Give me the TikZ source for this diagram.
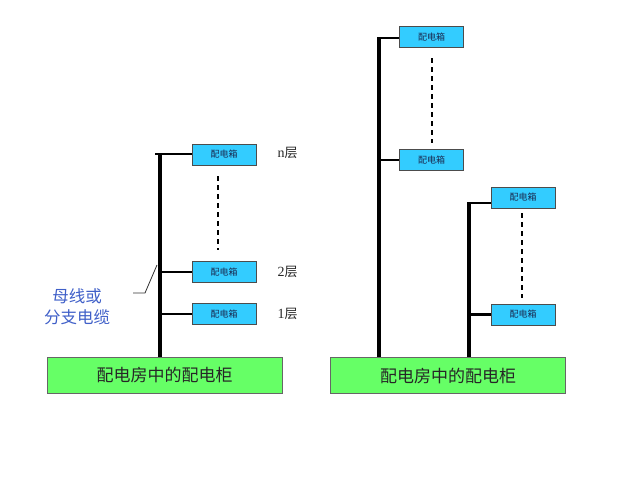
\documentclass[tikz,border=0pt]{standalone}
\usepackage{fontspec}
\newfontfamily\cjk{Noto Sans CJK SC}
\newfontfamily\lat{Liberation Serif}
\definecolor{boxblue}{HTML}{33CCFF}
\definecolor{boxgreen}{HTML}{66FF66}
\definecolor{labelblue}{HTML}{3F5FC8}
\definecolor{boxtext}{HTML}{1A2A50}
\begin{document}
\begin{tikzpicture}[x=1pt,y=-1pt,
  dbox/.style={draw=black!70,fill=boxblue,minimum width=64pt,minimum height=21pt,inner sep=0pt,text=boxtext,font=\cjk\fontsize{9}{9}\selectfont},
  cabinet/.style={draw=black!60,fill=boxgreen,minimum width=235pt,minimum height=36pt,inner sep=0pt,text=black!85,font=\cjk\fontsize{17}{17}\selectfont},
  bus/.style={line width=4.5pt},
  stub/.style={line width=2.2pt},
  dots/.style={dashed,line width=1.5pt,dash pattern=on 5pt off 4pt},
  floor/.style={font=\cjk\fontsize{13}{13}\selectfont,anchor=west,text=black!85}]
\useasboundingbox (0,0) rectangle (640,480);
% left diagram
\node[cabinet] (c1) at (164.5,375) {配电房中的配电柜};
\node[dbox] (a1) at (224,154.5) {配电箱};
\node[dbox] (a2) at (224,272) {配电箱};
\node[dbox] (a3) at (224,314) {配电箱};
\coordinate (b1t) at (160,154);
\coordinate (b1s) at (155,154);
\draw[bus] (b1t) -- (b1t |- c1.north);
\draw[stub] (b1s) -- (a1.west |- b1s);
\draw[stub] (b1t |- a2.west) -- (a2.west);
\draw[stub] (b1t |- a3.west) -- (a3.west);
\draw[dots] (218,176) -- (218,250);
\node[floor] (f1) at (274,153) {{\lat\fontsize{14}{14}\selectfont n}层};
\node[floor] (f2) at (274,272) {{\lat\fontsize{14}{14}\selectfont 2}层};
\node[floor] (f3) at (274,314) {{\lat\fontsize{14}{14}\selectfont 1}层};
\node[font=\cjk\fontsize{16.5}{21}\selectfont,text=labelblue,align=center] (lab) at (77,307) {母线或\\分支电缆};
\coordinate (l1) at (133,293);
\coordinate (l2) at (145,293);
\coordinate (l3) at (157,265);
\draw[line width=0.8pt,black!80] (l1) -- (l2) -- (l3);
% right diagram
\node[cabinet] (c2) at (448,375.5) {配电房中的配电柜};
\node[dbox] (r1) at (431.5,37) {配电箱};
\node[dbox] (r2) at (431.5,160) {配电箱};
\node[dbox] (r3) at (523,197.5) {配电箱};
\node[dbox] (r4) at (523,314.5) {配电箱};
\coordinate (b2t) at (379,38);
\coordinate (b2s) at (377,38);
\draw[bus] (b2t) -- (b2t |- c2.north);
\draw[stub] (b2s) -- (r1.west |- b2s);
\draw[stub] (b2t |- r2.west) -- (r2.west);
\draw[dots] (432,58) -- (432,143);
\coordinate (b3t) at (469,203);
\coordinate (b3s) at (467,203);
\draw[bus] (b3t) -- (b3t |- c2.north);
\draw[stub] (b3s) -- (r3.west |- b3s);
\draw[stub] (b3t |- r4.west) -- (r4.west);
\draw[dots] (522,213) -- (522,298);
\end{tikzpicture}
\end{document}
